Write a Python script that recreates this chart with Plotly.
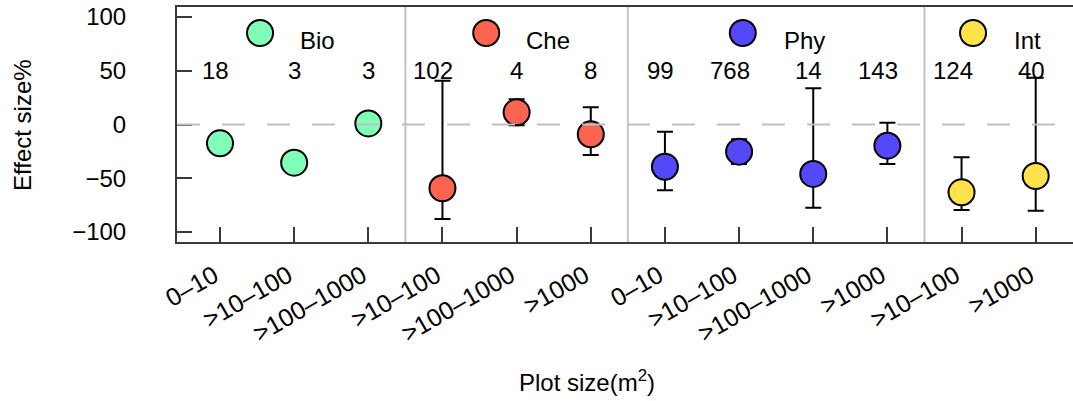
import plotly.graph_objects as go

# ---------------- data ----------------
groups = ["Bio", "Bio", "Bio", "Che", "Che", "Che", "Phy", "Phy", "Phy", "Phy", "Int", "Int"]
size_labels = ["0–10", ">10–100", ">100–1000",
               ">10–100", ">100–1000", ">1000",
               "0–10", ">10–100", ">100–1000", ">1000",
               ">10–100", ">1000"]
effect = [-17.5, -35.5, 1.0, -59.3, 11.3, -9.1, -39.3, -25.3, -46.0, -19.7, -63.1, -47.9]
err_upper = [None, None, None, 40.7, 23.4, 16.0, -6.7, -13.8, 33.7, 1.7, -30.5, 43.5]
err_lower = [None, None, None, -87.9, -0.8, -28.4, -61.2, -36.8, -77.4, -36.7, -79.5, -80.2]
n_obs = ["18", "3", "3", "102", "4", "8", "99", "768", "14", "143", "124", "40"]

group_names = ["Bio", "Che", "Phy", "Int"]
group_colors = {"Bio": "#80FFB8", "Che": "#FA6450", "Phy": "#5548F8", "Int": "#FFE14A"}

# ---------------- layout constants ----------------
FONT = "Liberation Sans, Arial, sans-serif"
FS = 24
legend_marker_x = {"Bio": 0.54, "Che": 3.59, "Phy": 7.05, "Int": 10.155}
legend_text_x = {"Bio": 1.05, "Che": 4.10, "Phy": 7.58, "Int": 10.68}
legend_marker_y = 85.1
legend_text_y = 78.6
n_label_y = 50
separators = [2.5, 5.5, 9.5]

W, H = 1073, 401
ML, MT = 177, 7
PLOT_BOTTOM = 242
MB = H - PLOT_BOTTOM
PW = W - ML
PH = H - MT - MB

fig = go.Figure()

xs = list(range(len(effect)))
for g in group_names:
    idx = [i for i in xs if groups[i] == g]
    up = [(err_upper[i] - effect[i]) if err_upper[i] is not None else 0 for i in idx]
    dn = [(effect[i] - err_lower[i]) if err_lower[i] is not None else 0 for i in idx]
    has_err = any(err_upper[i] is not None for i in idx)
    fig.add_trace(go.Scatter(
        x=idx, y=[effect[i] for i in idx], mode="markers",
        marker=dict(size=26, color=group_colors[g], line=dict(color="black", width=2)),
        error_y=dict(type="data", symmetric=False, array=up, arrayminus=dn,
                     color="black", thickness=2, width=8, visible=has_err),
        showlegend=False, hoverinfo="skip", cliponaxis=False,
    ))
    # legend-like marker
    fig.add_trace(go.Scatter(
        x=[legend_marker_x[g]], y=[legend_marker_y], mode="markers",
        marker=dict(size=26, color=group_colors[g], line=dict(color="black", width=2)),
        showlegend=False, hoverinfo="skip", cliponaxis=False,
    ))
    fig.add_annotation(x=legend_text_x[g], y=legend_text_y, text=g, showarrow=False,
                       xanchor="left", yanchor="middle", font=dict(family=FONT, size=FS, color="black"))

for i, s in enumerate(n_obs):
    fig.add_annotation(x=i, y=n_label_y, text=s, showarrow=False, xanchor="center", yanchor="middle",
                       xshift=-4.5 * (len(s) - 1), font=dict(family=FONT, size=FS, color="black"))

for sx in separators:
    fig.add_shape(type="line", xref="x", yref="paper", x0=sx, x1=sx, y0=0, y1=1,
                  line=dict(color="#c4c4c4", width=2), layer="below")

fig.add_shape(type="line", xref="paper", yref="y", x0=0, x1=1, y0=0, y1=0,
              line=dict(color="#c0c0c0", width=2, dash="23px,22px"), layer="above")

# axis titles
fig.add_annotation(xref="paper", yref="paper", x=(587 - ML) / PW, y=-(381 - PLOT_BOTTOM) / PH,
                   text="Plot size(m<sup>2</sup>)", showarrow=False, xanchor="center", yanchor="middle",
                   font=dict(family=FONT, size=FS, color="black"))
fig.add_annotation(xref="paper", yref="paper", x=-(ML - 22) / PW, y=(PLOT_BOTTOM - 125) / PH,
                   text="Effect size%", showarrow=False, textangle=-90, xanchor="center", yanchor="middle",
                   font=dict(family=FONT, size=FS, color="black"))

fig.update_layout(
    width=W, height=H,
    margin=dict(l=ML, r=0, t=MT, b=MB, pad=0, autoexpand=False),
    paper_bgcolor="white", plot_bgcolor="white",
    font=dict(family=FONT, size=FS, color="black"),
    xaxis=dict(range=[-0.58, 11.503], tickmode="array", tickvals=xs,
               ticktext=[t + "\u00a0" for t in size_labels],
               tickangle=-30, ticks="inside", ticklen=15, tickwidth=2, tickcolor="#3a3a3a",
               showline=True, linecolor="#3a3a3a", linewidth=2, mirror=True, automargin=False,
               showgrid=False, zeroline=False, tickfont=dict(family=FONT, size=25, color="black"),
               ticklabelstandoff=4, ticklabeloverflow="allow"),
    yaxis=dict(range=[-109.3, 109.3], tickmode="array", tickvals=[-100, -50, 0, 50, 100],
               ticktext=["−100", "−50", "0", "50", "100"], automargin=False,
               ticks="inside", ticklen=15, tickwidth=2, tickcolor="#3a3a3a",
               showline=True, linecolor="#3a3a3a", linewidth=2,
               showgrid=False, zeroline=False, tickfont=dict(family=FONT, size=FS, color="black"),
               ticklabelstandoff=44, ticklabeloverflow="allow"),
)

fig.write_html("out.html", config={"displayModeBar": False},
               post_script="document.body.style.margin='0';document.body.style.padding='0';")
